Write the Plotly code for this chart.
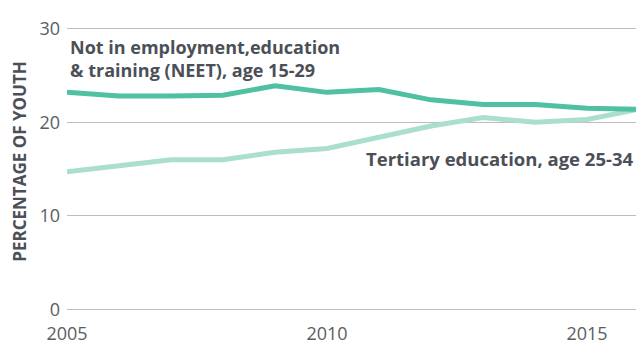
import plotly.graph_objects as go

years = list(range(2005, 2017))
neet = [23.2, 22.8, 22.8, 22.9, 23.9, 23.2, 23.5, 22.4, 21.9, 21.9, 21.5, 21.4]
tertiary = [14.7, 15.4, 16.0, 16.0, 16.8, 17.2, 18.4, 19.6, 20.5, 20.0, 20.3, 21.4]
x_ticks = [2005, 2010, 2015]
y_ticks = [0, 10, 20, 30]

neet_color = "#4fc0a1"
tert_color = "#a9dfcb"
text_color = "#4b5058"
tick_color = "#5a5e63"

OFF = 8  # default page body margin
W, H = 644 - OFF, 345 - OFF

# target screen pixels: y=0 at 309, 9.35 px per unit
ppu = 9.35
y0_pix = 309
y_lo, y_hi = -0.3, 30.3
top = y0_pix - ppu * y_hi - OFF
bot = y0_pix - ppu * y_lo - OFF

x0px, x1px = 67 - OFF, 641 - OFF

def ypaper(pix):
    return (bot - (pix - OFF)) / (bot - top)

def xpaper(pix):
    return ((pix - OFF) - x0px) / (x1px - x0px)

fig = go.Figure()
fig.add_trace(go.Scatter(x=years, y=tertiary, mode="lines",
                         line=dict(color=tert_color, width=5), name="Tertiary education, age 25-34"))
fig.add_trace(go.Scatter(x=years, y=neet, mode="lines",
                         line=dict(color=neet_color, width=5), name="NEET, age 15-29"))

fig.update_layout(
    width=W, height=H,
    margin=dict(l=x0px, r=W - x1px, t=top, b=H - bot, autoexpand=False),
    paper_bgcolor="white", plot_bgcolor="white",
    showlegend=False,
    font=dict(family="Open Sans", color=tick_color, size=18),
    xaxis=dict(range=[2005, 2016 + 2 / 52], tickvals=x_ticks, showgrid=False, zeroline=False,
               showline=False, ticks="", ticklabelstandoff=9,
               tickfont=dict(size=18, color=tick_color)),
    yaxis=dict(range=[y_lo, y_hi], tickvals=y_ticks, showgrid=True, gridcolor="#bdbdbd",
               gridwidth=1, zeroline=False, showline=False, ticks="",
               ticklabelstandoff=6, tickfont=dict(size=18, color=tick_color)),
    annotations=[
        dict(text="Not in employment,education<br>& training (NEET), age 15-29",
             xref="paper", yref="paper", x=xpaper(68), y=ypaper(33), xanchor="left", yanchor="top",
             align="left", showarrow=False,
             font=dict(size=18, color=text_color, family="Open Sans", weight=700)),
        dict(text="Tertiary education, age 25-34",
             xref="paper", yref="paper", x=xpaper(636), y=ypaper(158), xanchor="right", yanchor="middle",
             align="right", showarrow=False,
             font=dict(size=18.5, color=text_color, family="Open Sans", weight=700)),
        dict(text="PERCENTAGE OF YOUTH", textangle=-90,
             xref="paper", yref="paper", x=xpaper(19.5), y=ypaper(161), xanchor="center", yanchor="middle",
             showarrow=False,
             font=dict(size=17, color=text_color, family="Open Sans", weight=700)),
    ],
)

fig.write_html("out.html")
